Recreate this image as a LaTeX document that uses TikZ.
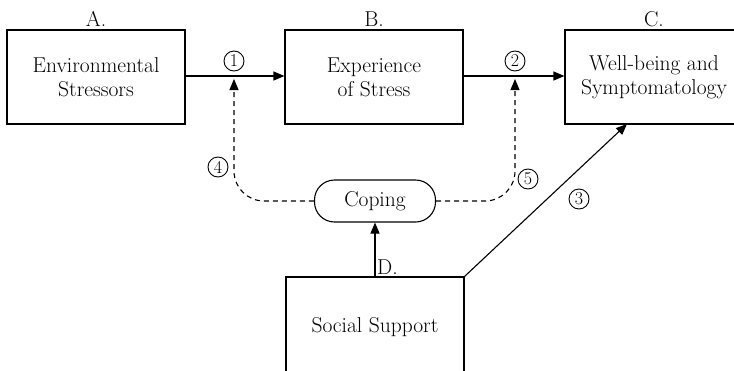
\documentclass[tikz,border=0pt]{standalone}
\usetikzlibrary{arrows.meta,positioning,calc}
\tikzset{
	block/.style={draw, line width=1.1pt, minimum width=178pt, minimum height=94pt, align=center, inner sep=0pt},
	pill/.style={draw, line width=1.1pt, rounded corners=20pt, minimum width=121pt, minimum height=42pt, inner sep=0pt},
	num/.style={circle, draw, line width=0.9pt, minimum size=20pt, inner sep=0pt, font=\fontsize{18}{18}\selectfont},
	link/.style={line width=1.1pt, -{Triangle[length=11pt,width=9pt]}},
	dlink/.style={link, dashed, dash pattern=on 5pt off 4pt, rounded corners=30pt}
}
\begin{document}
	\begin{tikzpicture}[x=1pt, y=-1pt, font=\fontsize{21.5}{24}\selectfont]
		\useasboundingbox ( 0, 0 ) rectangle ( 734, 370 );
		\node [block] (env) at ( 96, 77 ) {Environmental\\Stressors};
		\node [block] (exp) at ( 374, 77 ) {Experience\\of Stress};
		\node [block] (well) at ( 654, 77 ) {Well-being and\\Symptomatology};
		\node [block, minimum height=100pt] (soc) at ( 375, 327 ) {Social Support};
		\node [pill] (cope) at ( 375, 201 ) {Coping};
		\node [above=-1pt of env] (labA) {A.};
		\node [above=-1pt of exp] (labB) {B.};
		\node [above=-1pt of well] (labC) {C.};
		\coordinate (j1) at ( 234, 76 );
		\coordinate (j2) at ( 515, 76 );
		\coordinate (wellin) at ( 627, 124 );
		\node [num] (n1) at ( 234, 61 ) {1};
		\node [num] (n2) at ( 515, 61 ) {2};
		\node [num] (n3) at ( 579, 199 ) {3};
		\node [num] (n4) at ( 218, 167 ) {4};
		\node [num] (n5) at ( 528, 179 ) {5};
		\draw [link] (env.east |- j1) -- (exp.west |- j1);
		\draw [link] (exp.east |- j2) -- (well.west |- j2);
		\draw [dlink] (cope.west) -| ( $ (j1) + (0,3) $ );
		\draw [dlink] (cope.east) -| ( $ (j2) + (0,3) $ );
		\draw [link] (soc.north) -- (cope.south);
		\node [anchor=south west, inner sep=2pt] (labD) at (soc.north) {D.};
		\draw [link] (soc.north east) -- (wellin);
	\end{tikzpicture}
\end{document}
